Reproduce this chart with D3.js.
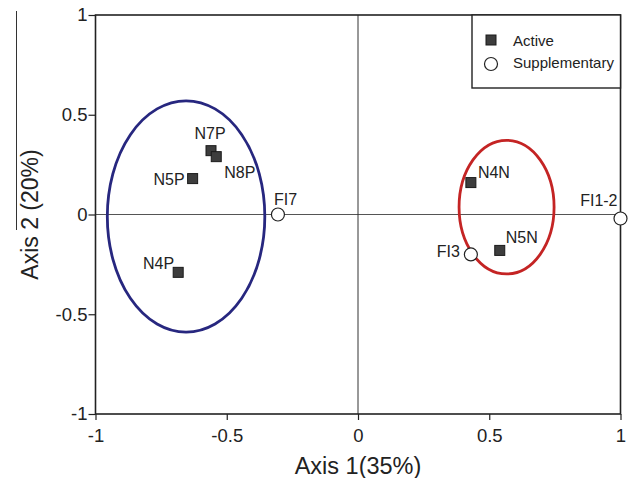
<!DOCTYPE html>
<html>
<head>
<meta charset="utf-8">
<script src="https://cdn.jsdelivr.net/npm/d3@7"></script>
<style>
  body { margin: 0; background: #fff; }
  svg text { font-family: "Liberation Sans", Arial, sans-serif; fill: #222; }
</style>
</head>
<body>
<div id="chart"></div>
<script>
// data
var activeNames = ["N7P", "N8P", "N5P", "N4P", "N4N", "N5N"];
var activeX = [-0.56, -0.54, -0.63, -0.685, 0.43, 0.54];
var activeY = [0.32, 0.29, 0.18, -0.29, 0.16, -0.18];

var suppNames = ["FI7", "FI3", "FI1-2"];
var suppX = [-0.305, 0.43, 1.0];
var suppY = [0.0, -0.20, -0.02];

// group ellipses: center x, center y, radius x, radius y
var groupNames = ["P", "N"];
var groupCx = [-0.655, 0.566];
var groupCy = [-0.01, 0.037];
var groupRx = [0.30, 0.181];
var groupRy = [0.58, 0.335];
var groupColors = ["#27277f", "#c42424"];

var tickValues = [-1, -0.5, 0, 0.5, 1];

// label placement (pixels relative to the marker)
var labelOffset = {
  "N7P": [-1, -12, "middle"], "N8P": [8, 21, "start"], "N5P": [-8, 6, "end"],
  "N4P": [-4, -3, "end"], "N4N": [7, -5, "start"], "N5N": [6, -7, "start"],
  "FI7": [-4, -10, "start"], "FI3": [-11, 3, "end"], "FI1-2": [-3, -12, "end"]
};

var width = 632;
var height = 478;
var mLeft = 95.5, mRight = 620.5, mTop = 15, mBottom = 414;

var svg = d3.select("#chart").append("svg")
  .attr("width", width)
  .attr("height", height);

var xScale = d3.scaleLinear().domain([-1, 1]).range([mLeft, mRight]);
var yScale = d3.scaleLinear().domain([-1, 1]).range([mBottom, mTop]);

/* center lines */
svg.append("line")
  .attr("x1", mLeft).attr("x2", mRight)
  .attr("y1", yScale(0)).attr("y2", yScale(0))
  .attr("stroke", "#555").attr("stroke-width", 1);
svg.append("line")
  .attr("x1", xScale(0)).attr("x2", xScale(0))
  .attr("y1", mTop).attr("y2", mBottom)
  .attr("stroke", "#333").attr("stroke-width", 1);

/* stray line on the left */
svg.append("line")
  .attr("x1", 16.5).attr("x2", 16.5)
  .attr("y1", 11).attr("y2", 230)
  .attr("stroke", "#333").attr("stroke-width", 1);

/* axes */
var fmt = d => d3.format("~g")(d).replace("−", "-");
var xAxis = d3.axisBottom(xScale).tickValues(tickValues).tickSize(6).tickFormat(fmt);
var yAxis = d3.axisLeft(yScale).tickValues(tickValues).tickSize(7).tickFormat(fmt);

var gx = svg.append("g")
  .attr("transform", `translate(0, ${mBottom})`)
  .call(xAxis);
gx.select(".domain").remove();
gx.selectAll("line").attr("stroke", "#222").attr("stroke-width", 1.2);
gx.selectAll("text").attr("font-size", 18.5).attr("dy", "1em");

var gy = svg.append("g")
  .attr("transform", `translate(${mLeft}, 0)`)
  .call(yAxis);
gy.select(".domain").remove();
gy.selectAll("line").attr("stroke", "#222").attr("stroke-width", 1.2);
gy.selectAll("text").attr("font-size", 18.5).attr("x", -8);

/* frame */
svg.append("rect")
  .attr("x", mLeft).attr("y", mTop)
  .attr("width", mRight - mLeft).attr("height", mBottom - mTop)
  .attr("fill", "none").attr("stroke", "#222").attr("stroke-width", 1.6);

/* axis titles */
svg.append("text")
  .attr("x", xScale(0)).attr("y", 474)
  .attr("text-anchor", "middle")
  .attr("font-size", 23.5)
  .text("Axis 1(35%)");

svg.append("text")
  .attr("transform", `translate(38, ${yScale(0)}) rotate(-90)`)
  .attr("text-anchor", "middle")
  .attr("font-size", 23)
  .text("Axis 2 (20%)");

/* ellipses */
svg.selectAll(".group")
  .data(groupNames).enter()
  .append("ellipse")
  .attr("class", "group")
  .attr("cx", (d, i) => xScale(groupCx[i]))
  .attr("cy", (d, i) => yScale(groupCy[i]))
  .attr("rx", (d, i) => xScale(groupRx[i]) - xScale(0))
  .attr("ry", (d, i) => yScale(0) - yScale(groupRy[i]))
  .attr("fill", "none")
  .attr("stroke", (d, i) => groupColors[i])
  .attr("stroke-width", 2.8);

/* active points */
var sq = 10;
svg.selectAll(".active")
  .data(activeNames).enter()
  .append("rect")
  .attr("class", "active")
  .attr("x", (d, i) => xScale(activeX[i]) - sq / 2)
  .attr("y", (d, i) => yScale(activeY[i]) - sq / 2)
  .attr("width", sq).attr("height", sq)
  .attr("fill", "#3d3d3d")
  .attr("stroke", "#1a1a1a").attr("stroke-width", 1);

/* supplementary points */
svg.selectAll(".supp")
  .data(suppNames).enter()
  .append("circle")
  .attr("class", "supp")
  .attr("cx", (d, i) => xScale(suppX[i]))
  .attr("cy", (d, i) => yScale(suppY[i]))
  .attr("r", 6.5)
  .attr("fill", "#fff")
  .attr("stroke", "#222").attr("stroke-width", 1.2);

/* point labels */
var allNames = activeNames.concat(suppNames);
var allX = activeX.concat(suppX);
var allY = activeY.concat(suppY);

svg.selectAll(".lbl")
  .data(allNames).enter()
  .append("text")
  .attr("class", "lbl")
  .attr("x", (d, i) => xScale(allX[i]) + labelOffset[d][0])
  .attr("y", (d, i) => yScale(allY[i]) + labelOffset[d][1])
  .attr("text-anchor", d => labelOffset[d][2])
  .attr("font-size", 16)
  .text(d => d);

/* legend */
var legend = svg.append("g");
legend.append("rect")
  .attr("x", 472).attr("y", mTop)
  .attr("width", mRight - 472).attr("height", 73)
  .attr("fill", "#fff")
  .attr("stroke", "#222").attr("stroke-width", 1.4);
legend.append("rect")
  .attr("x", 486).attr("y", 35)
  .attr("width", 10).attr("height", 10)
  .attr("fill", "#3d3d3d").attr("stroke", "#1a1a1a");
legend.append("text")
  .attr("x", 513).attr("y", 46)
  .attr("font-size", 15)
  .text("Active");
legend.append("circle")
  .attr("cx", 491).attr("cy", 64)
  .attr("r", 6.5)
  .attr("fill", "#fff").attr("stroke", "#222").attr("stroke-width", 1.2);
legend.append("text")
  .attr("x", 513).attr("y", 68)
  .attr("font-size", 15)
  .text("Supplementary");
</script>
</body>
</html>
